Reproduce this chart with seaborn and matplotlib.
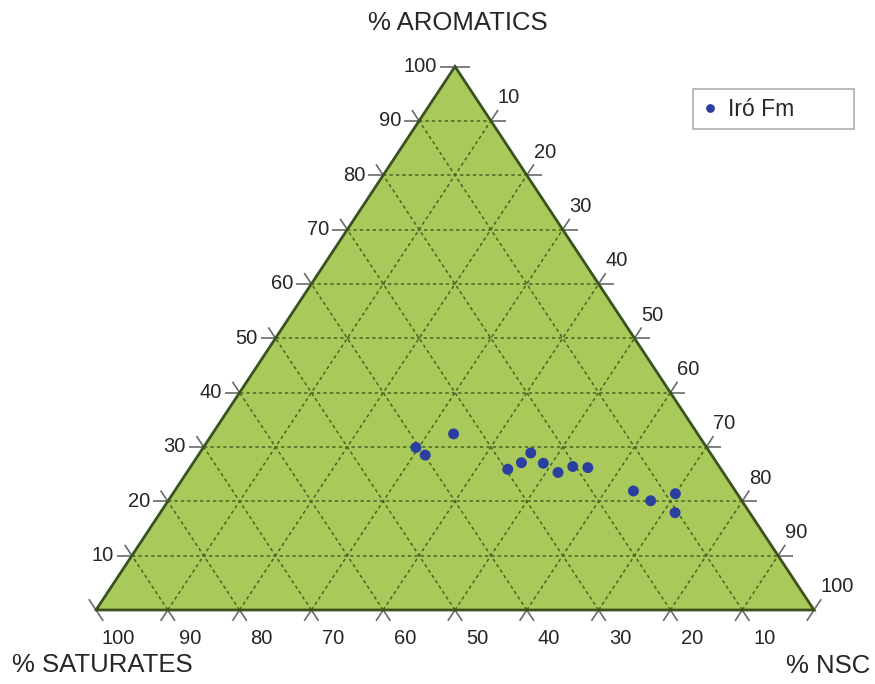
import numpy as np
import pandas as pd
import matplotlib
matplotlib.use("Agg")
import matplotlib.pyplot as plt
import seaborn as sns

# ---- data (percentages) ----
series_name = "Iró Fm"
saturates = [34.0, 40.5, 39.9, 29.7, 27.2, 25.0, 24.2, 23.0, 20.4, 18.4, 14.2, 12.7, 8.6, 10.4]
aromatics = [32.4, 29.9, 28.5, 25.9, 27.1, 28.9, 27.0, 25.3, 26.4, 26.2, 21.9, 20.1, 21.4, 17.9]
nsc       = [33.6, 29.6, 31.6, 44.4, 45.7, 46.1, 48.8, 51.7, 53.2, 55.4, 63.9, 67.2, 70.0, 71.7]
tick_values = [10, 20, 30, 40, 50, 60, 70, 80, 90, 100]
axis_titles = {"top": "% AROMATICS", "left": "% SATURATES", "right": "% NSC"}

sns.set_style("white")
plt.rcParams['font.family'] = ['Liberation Sans', 'DejaVu Sans']

W, H = 875, 684
fig = plt.figure(figsize=(W / 100, H / 100), dpi=100)
ax = fig.add_axes([0, 0, 1, 1])

# pixel mapping: X in [0,100] -> px 96..814 ; Y in [0,100] -> py 610..66.5
X0, SX = 96.0, 7.18
Y0, SY = 610.0, 5.435
ax.set_xlim((0 - X0) / SX, (W - X0) / SX)
ax.set_ylim((Y0 - H) / SY, Y0 / SY)
ax.axis('off')


def cart(s, a, n):
    t = s + a + n
    return 100 * (n + a / 2) / t, 100 * a / t


def off(p, dx_px, dy_px):
    # dy_px positive = downward on screen
    return p[0] + dx_px / SX, p[1] - dy_px / SY


fill_col = "#aac95b"
edge_col = "#3a5220"
grid_col = "#4a6423"
tick_col = "#6a6a6a"
text_col = "#262626"
FS_TICK = 14.5
FS_TITLE = 18.5

# triangle fill
ax.fill([0, 100, 50], [0, 0, 100], color=fill_col, zorder=0, lw=0)

# grid lines
for k in tick_values[:-1]:
    kw = dict(color=grid_col, lw=1.1, ls=(0, (2.2, 2.0)), zorder=1)
    ax.plot([k / 2, 100 - k / 2], [k, k], **kw)                 # const aromatics
    ax.plot([100 - k, (100 - k) / 2], [0, 100 - k], **kw)       # const saturates
    ax.plot([k, k + (100 - k) / 2], [0, 100 - k], **kw)         # const NSC

# triangle edges
ax.plot([0, 100, 50, 0], [0, 0, 100, 0], color=edge_col, lw=2.0, zorder=3,
        solid_joinstyle='miter')

L = 13.0
ul = (-0.552, -0.834)  # up-left on screen (dir of right edge upward)
ur = (0.55, -0.835)    # up-right on screen (dir of left edge upward)
tkw = dict(color=tick_col, lw=1.2, zorder=2, solid_capstyle='butt')

vals = [0] + tick_values
# left edge (aromatics)
for a in vals:
    p = (a / 2, a)
    if a > 0:
        q = off(p, -15, 0)
        ax.plot([p[0], q[0]], [p[1], q[1]], **tkw)
        lp = off(p, -18, 0)
        ax.text(lp[0], lp[1], str(a), ha='right', va='center', fontsize=FS_TICK, color=text_col)
    if a < 100:
        q = off(p, ul[0] * L, ul[1] * L)
        ax.plot([p[0], q[0]], [p[1], q[1]], **tkw)

# right edge (NSC)
for n in vals:
    a = 100 - n
    p = (n + a / 2, a)
    if n < 100:
        q = off(p, 15, 0)
        ax.plot([p[0], q[0]], [p[1], q[1]], **tkw)
    if n > 0:
        q = off(p, ur[0] * L, ur[1] * L)
        ax.plot([p[0], q[0]], [p[1], q[1]], **tkw)
        lp = off(p, 7, -23)
        ax.text(lp[0], lp[1], str(n), ha='left', va='center', fontsize=FS_TICK, color=text_col)

# bottom edge (saturates)
for x in vals:
    p = (x, 0)
    s = 100 - x
    if s > 0:
        q = off(p, -ul[0] * L, -ul[1] * L)
        ax.plot([p[0], q[0]], [p[1], q[1]], **tkw)
        lp = off(p, 22, 29)
        ax.text(lp[0], lp[1], str(s), ha='center', va='center', fontsize=FS_TICK, color=text_col)
    if x > 0:
        q = off(p, -ur[0] * L, -ur[1] * L)
        ax.plot([p[0], q[0]], [p[1], q[1]], **tkw)

# axis titles
def pix(px, py):
    return (px - X0) / SX, (Y0 - py) / SY

tx, ty = pix(458, 23)
ax.text(tx, ty, axis_titles["top"], ha='center', va='center', fontsize=FS_TITLE, color=text_col)
tx, ty = pix(12, 665)
ax.text(tx, ty, axis_titles["left"], ha='left', va='center', fontsize=FS_TITLE, color=text_col)
tx, ty = pix(870, 666)
ax.text(tx, ty, axis_titles["right"], ha='right', va='center', fontsize=FS_TITLE, color=text_col)

# data points
xy = [cart(s, a, n) for s, a, n in zip(saturates, aromatics, nsc)]
df = pd.DataFrame({"X": [p[0] for p in xy], "Y": [p[1] for p in xy],
                   "Formation": [series_name] * len(xy)})
sns.scatterplot(data=df, x="X", y="Y", hue="Formation", palette=["#2b3f9e"],
                s=62, edgecolor='none', ax=ax, zorder=5)

leg = ax.legend(loc='upper left',
                bbox_to_anchor=(693 / W, 1 - 128 / H, 161 / W, 39 / H),
                bbox_transform=fig.transFigure, mode='expand',
                frameon=True, fancybox=False, edgecolor='#9a9a9a',
                fontsize=16.5, borderaxespad=0, handletextpad=0.45,
                handlelength=0.7, markerscale=0.8, borderpad=0.38)
leg.get_frame().set_linewidth(1.2)
for t in leg.get_texts():
    t.set_color(text_col)

fig.savefig("out.png", dpi=100, facecolor='white')
